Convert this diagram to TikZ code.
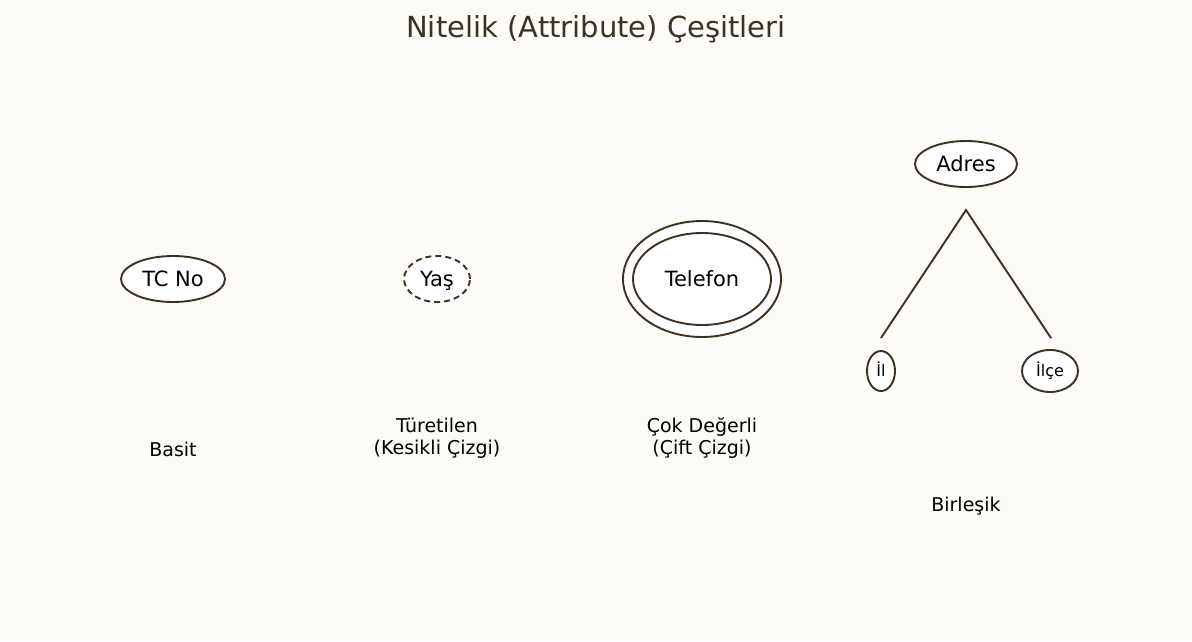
\documentclass[tikz,border=0pt]{standalone}
\usepackage{fontspec}
\setmainfont{DejaVu Sans}
\usetikzlibrary{shapes.geometric}
\definecolor{bg}{HTML}{FCFBF7}
\definecolor{ink}{HTML}{3D3122}
\tikzset{
  attr/.style={ellipse, draw=ink, fill=white, line width=1.9pt, inner sep=0pt, text height=15.3pt, text depth=0pt, font=\fontsize{21}{24}\selectfont},
  small/.style={font=\fontsize{16}{19}\selectfont, text height=11.7pt},
  lbl/.style={align=center, font=\fontsize{19}{22}\selectfont, text=black},
}
\begin{document}
\begin{tikzpicture}[x=1pt,y=-1pt]
\fill[bg] (0,0) rectangle (1192,641);
\useasboundingbox (0,0) rectangle (1192,641);
\node[text=ink, font=\fontsize{29}{34}\selectfont] (title) at (596,29) {Nitelik (Attribute) Çeşitleri};
% Basit
\node[attr, minimum width=104pt, minimum height=46pt] (tc) at (173,279) {TC No};
\node[lbl] (basit) at (173,449) {Basit};
% Turetilen
\node[attr, dash pattern=on 6pt off 4pt, minimum width=66pt, minimum height=46pt] (yas) at (437,279) {Yaş};
\node[lbl] (tur) at (437,438) {Türetilen\\(Kesikli Çizgi)};
% Cok degerli
\node[ellipse, draw=ink, fill=white, line width=1.9pt, minimum width=158pt, minimum height=116pt] (telo) at (702,279) {};
\node[attr, minimum width=138pt, minimum height=92pt] (tel) at (702,279) {Telefon};
\node[lbl] (cok) at (702,438) {Çok Değerli\\(Çift Çizgi)};
% Birlesik
\node[attr, minimum width=102pt, minimum height=46pt] (adres) at (966,164) {Adres};
\coordinate (apex) at (966,210);
\coordinate (lend) at (881,338);
\coordinate (rend) at (1051,338);
\draw[ink, line width=1.9pt] (lend) -- (apex) -- (rend);
\node[attr, small, minimum width=28pt, minimum height=40pt] (il) at (881,371) {İl};
\node[attr, small, minimum width=56pt, minimum height=42pt] (ilce) at (1050,371) {İlçe};
\node[lbl] (bir) at (966,506) {Birleşik};
\end{tikzpicture}
\end{document}
